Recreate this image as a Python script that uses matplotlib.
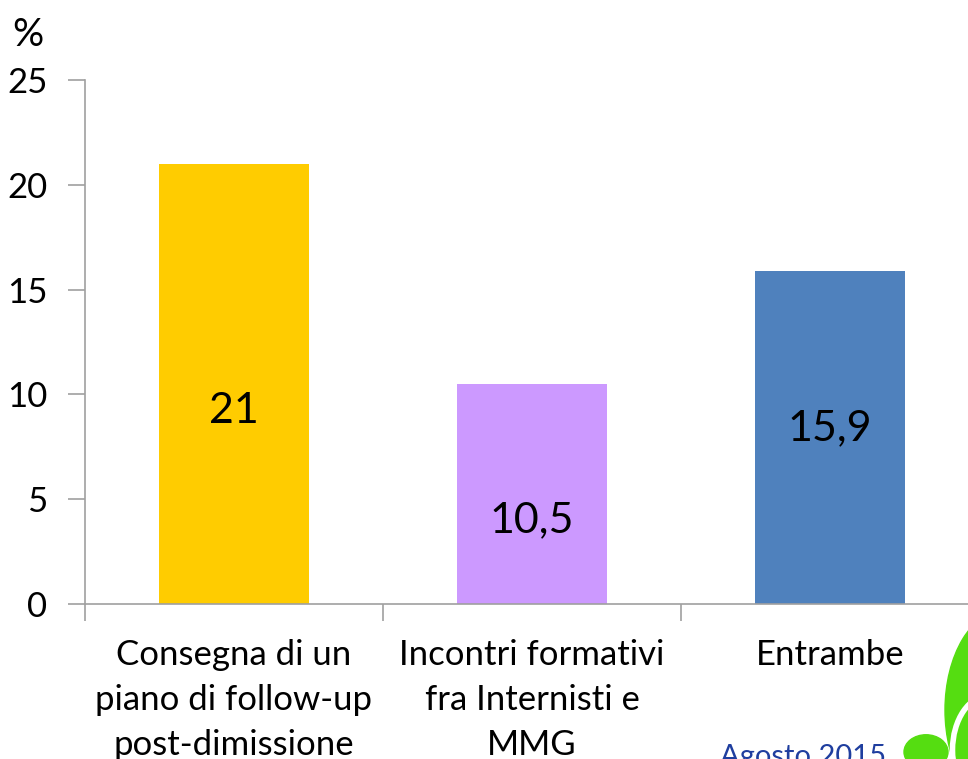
import matplotlib
matplotlib.use("Agg")
import matplotlib.pyplot as plt
from matplotlib.patches import Circle, Ellipse

# data
categories = ["Consegna di un\npiano di follow-up\npost-dimissione",
              "Incontri formativi\nfra Internisti e\nMMG",
              "Entrambe"]
values = [21, 10.5, 15.9]
value_labels = ["21", "10,5", "15,9"]
bar_colors = ["#FFCC00", "#CC99FF", "#4F81BD"]
yticks = [0, 5, 10, 15, 20, 25]

# where excel put the labels inside the bars
label_y = [9.2, 4.0, 8.4]

plt.rcParams['font.family'] = ['Lato', 'DejaVu Sans']

fig = plt.figure(figsize=(9.68, 7.59), dpi=100)
ax = fig.add_axes([85 / 968, 1 - 604 / 759, 894 / 968, 524 / 759])

x = list(range(len(categories)))
ax.bar(x, values, width=0.503, color=bar_colors, zorder=2)

for xi, lab, ly in zip(x, value_labels, label_y):
    ax.text(xi, ly, lab, ha='center', va='center', fontsize=31, color='black')

ax.set_xlim(-0.5, len(categories) - 0.5)
ax.set_ylim(0, 25)
ax.set_yticks(yticks)
ax.set_yticklabels([str(t) for t in yticks], fontsize=25)

ax.set_xticks([i - 0.5 for i in range(len(categories) + 1)])
ax.set_xticklabels([])
ax.set_xticks(x, minor=True)
ax.set_xticklabels(categories, minor=True, fontsize=25, linespacing=1.5)
ax.tick_params(axis='x', which='minor', length=0, pad=25)
ax.tick_params(axis='x', which='major', length=12, color='#a0a0a0', width=1.2)
ax.tick_params(axis='y', length=12, color='#a0a0a0', width=1.2, pad=15)

for s in ['top', 'right']:
    ax.spines[s].set_visible(False)
for s in ['left', 'bottom']:
    ax.spines[s].set_color('#a0a0a0')
    ax.spines[s].set_linewidth(1.2)

fig.text(12 / 968, 1 - 46 / 759, "%", fontsize=28, ha='left', va='baseline')

fig.text(720 / 968, 1 - 744 / 759, "Agosto 2015", fontsize=21, color='#1F3E9F',
         ha='left', va='top')

# bit of the green logo in the corner
green = '#55DD11'
fig.patches.append(Ellipse((1005 / 968, 1 - 710 / 759), 120 / 968, 200 / 759,
                           transform=fig.transFigure, color=green, zorder=5))
fig.patches.append(Ellipse((990 / 968, 1 - 750 / 759), 75 / 968, 110 / 759,
                           transform=fig.transFigure, facecolor='none',
                           edgecolor='white', linewidth=4, zorder=6))
fig.patches.append(Circle((926 / 968, 1 - 752 / 759), 22 / 968,
                          transform=fig.transFigure, color=green, zorder=5))

fig.savefig("out.png", dpi=100)
